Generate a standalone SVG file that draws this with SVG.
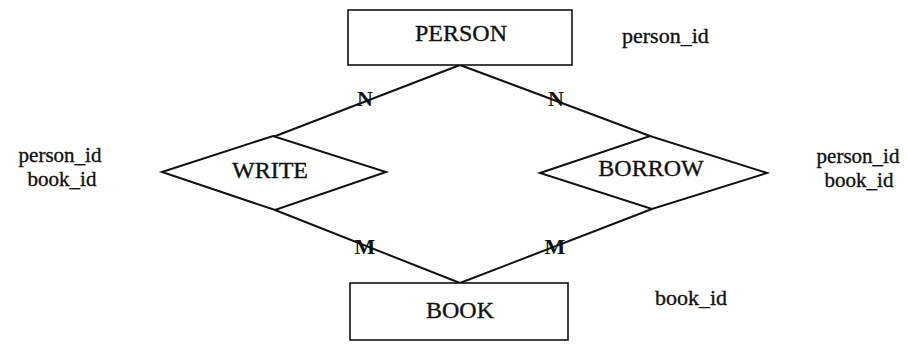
<svg xmlns="http://www.w3.org/2000/svg" width="908" height="344" viewBox="0 0 908 344">
  <style>
    text { font-family: "Liberation Serif", "DejaVu Serif", "Times New Roman", serif; font-size: 24px; fill: #111; stroke: #111; stroke-width: 0.35; }
    .mid { text-anchor: middle; }
    .attr { font-size: 22px; }
    .side { font-size: 21px; }
    .entity { fill: #fff; stroke: #111; stroke-width: 1.6; }
    .rel { fill: #fff; stroke: #111; stroke-width: 2; stroke-linejoin: miter; }
    .link { fill: none; stroke: #111; stroke-width: 2; }
    .card { font-size: 22px; font-weight: bold; stroke-width: 0; }
  </style>
  <rect width="908" height="344" fill="#fff"/>

  <!-- connectors between entities and relationships -->
  <g id="connectors">
    <line class="link" x1="460" y1="65" x2="273" y2="137"/>
    <line class="link" x1="460" y1="65" x2="650" y2="136"/>
    <line class="link" x1="275" y1="210" x2="460" y2="283"/>
    <line class="link" x1="652" y1="209" x2="460" y2="283"/>
    <text class="mid card" x="365" y="106">N</text>
    <text class="mid card" x="556" y="106">N</text>
    <text class="mid card" x="365" y="254">M</text>
    <text class="mid card" x="555" y="254">M</text>
  </g>

  <!-- entity: PERSON -->
  <g id="person">
    <rect class="entity" x="348" y="10" width="224" height="55"/>
    <text class="mid" x="461" y="41">PERSON</text>
    <text class="attr" x="622" y="43">person_id</text>
  </g>

  <!-- entity: BOOK -->
  <g id="book">
    <rect class="entity" x="350" y="283" width="218" height="57"/>
    <text class="mid" x="460" y="318">BOOK</text>
    <text class="attr" x="655" y="305">book_id</text>
  </g>

  <!-- relationship: WRITE -->
  <g id="write">
    <polygon class="rel" points="162,172 273,136 386,172 275,210"/>
    <text class="mid" x="270" y="178">WRITE</text>
    <text class="mid side" x="60" y="162">person_id</text>
    <text class="mid side" x="62" y="186">book_id</text>
  </g>

  <!-- relationship: BORROW -->
  <g id="borrow">
    <polygon class="rel" points="540,173 650,136 767,173 652,209"/>
    <text class="mid" x="651" y="176">BORROW</text>
    <text class="mid side" x="858" y="163">person_id</text>
    <text class="mid side" x="859" y="187">book_id</text>
  </g>
</svg>
